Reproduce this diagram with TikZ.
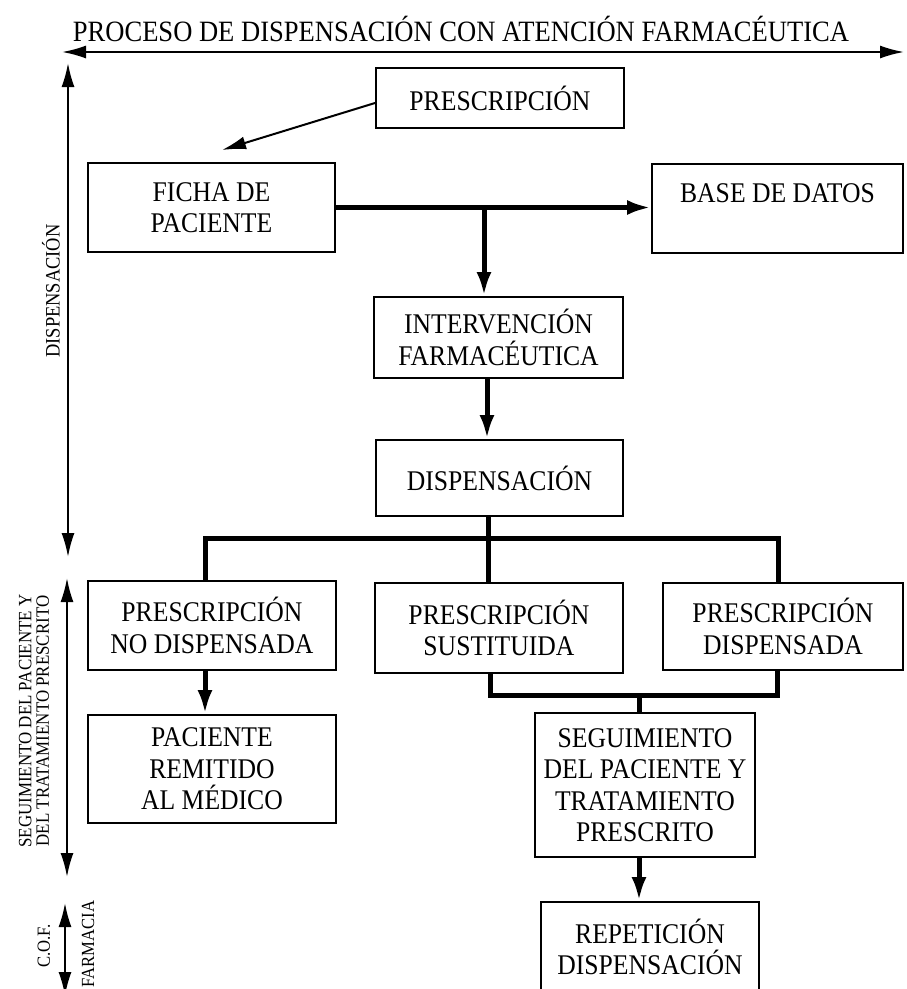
\documentclass[tikz,border=0pt]{standalone}
\usepackage{fontspec}
\setmainfont[FakeStretch=0.9]{Liberation Serif}
\usetikzlibrary{arrows.meta}
\begin{document}
\begin{tikzpicture}[x=1pt,y=-1pt,
  box/.style={draw,line width=2pt,rectangle,inner sep=0pt,align=center,
    font=\fontsize{28.5}{31.5}\selectfont},
  thin/.style={line width=2pt,-{Latex[length=24pt,width=13pt]}},
  both/.style={line width=2pt,{Latex[length=24pt,width=13pt]}-{Latex[length=24pt,width=13pt]}},
  heavy/.style={line width=5pt,line join=miter},
  heavyarrow/.style={heavy,-{Latex[length=24pt,width=15pt]}},
  side/.style={rotate=90,align=center,inner sep=0pt}]
\clip (0,0) rectangle (906,989);

% title and phase arrows
\node[inner sep=0pt,font=\fontsize{29.5}{32}\selectfont] (title) at (461,29) {PROCESO DE DISPENSACIÓN CON ATENCIÓN FARMACÉUTICA};
\coordinate (hL) at (62,52);
\coordinate (hR) at (904,52);
\draw[both] (hL) -- (hR);

\coordinate (d1) at (68,63);
\coordinate (d2) at (68,557);
\draw[both] (d1) -- (d2);
\node[side,font=\fontsize{20.5}{21}\selectfont] (lblDisp) at (51,291) {DISPENSACIÓN};

\coordinate (s1) at (67,578);
\coordinate (s2) at (67,877);
\draw[both] (s1) -- (s2);
\node[side,font=\fontsize{18.8}{17.5}\selectfont] (lblSeg) at (34,721) {SEGUIMIENTO DEL PACIENTE Y\\DEL TRATAMIENTO PRESCRITO};

\coordinate (c1) at (65,903);
\coordinate (c2) at (65,996);
\draw[both] (c1) -- (c2);
\node[side,font=\fontsize{18.5}{19}\selectfont] (lblCof) at (44,946) {C.O.F.};
\node[side,font=\fontsize{18.5}{19}\selectfont] (lblFar) at (88,944) {FARMACIA};

% boxes
\node[box,minimum width=248pt,minimum height=60pt] (presc) at (500,98) {PRESCRIPCIÓN};
\node[box,minimum width=247pt,minimum height=89pt] (ficha) at (211.5,207.5) {FICHA DE\\PACIENTE};
\node[box,minimum width=251pt,minimum height=89pt] (base) at (777.5,208.5) {BASE DE DATOS\\\phantom{X}};
\node[box,minimum width=249pt,minimum height=81pt] (interv) at (498.5,337.5) {INTERVENCIÓN\\FARMACÉUTICA};
\node[box,minimum width=247pt,minimum height=76pt] (disp) at (499.5,478) {DISPENSACIÓN};
\node[box,minimum width=248pt,minimum height=89pt] (nodisp) at (212,625.5) {PRESCRIPCIÓN\\NO DISPENSADA};
\node[box,minimum width=248pt,minimum height=90pt] (sust) at (499,628) {PRESCRIPCIÓN\\SUSTITUIDA};
\node[box,minimum width=240pt,minimum height=87pt] (dispd) at (783,626.5) {PRESCRIPCIÓN\\DISPENSADA};
\node[box,minimum width=248pt,minimum height=108pt] (pac) at (212,769) {PACIENTE\\REMITIDO\\AL MÉDICO};
\node[box,minimum width=220pt,minimum height=144pt] (seg) at (645,785) {SEGUIMIENTO\\DEL PACIENTE Y\\TRATAMIENTO\\PRESCRITO};
\node[box,minimum width=218pt,minimum height=90pt] (rep) at (650,947) {REPETICIÓN\\DISPENSACIÓN};

% connectors
\coordinate (fichaTip) at (222,150);
\draw[thin] ([yshift=-5pt]presc.west) -- (fichaTip);

\coordinate (j1) at (484,207);
\draw[heavyarrow] (ficha.east) -- (base.west |- ficha.east);
\draw[heavyarrow] (j1) -- (j1 |- interv.north);

\coordinate (j2) at (487,0);
\draw[heavyarrow] (interv.south -| j2) -- (disp.north -| j2);

\coordinate (barL) at (205,538);
\coordinate (barM) at (488,538);
\coordinate (barR) at (778,538);
\draw[heavy] (nodisp.north -| barL) -- (barL) -- (barR) -- (dispd.north -| barR);
\draw[heavy] (disp.south -| barM) -- (sust.north -| barM);

\draw[heavyarrow] (nodisp.south -| barL) -- (pac.north -| barL);

\coordinate (lowL) at (490,695);
\coordinate (lowM) at (639,695);
\coordinate (lowR) at (777,695);
\draw[heavy] (sust.south -| lowL) -- (lowL) -- (lowR) -- (dispd.south -| lowR);
\draw[heavy] (lowM) -- (seg.north -| lowM);
\draw[heavyarrow] (seg.south -| lowM) -- (rep.north -| lowM);
\end{tikzpicture}
\end{document}
